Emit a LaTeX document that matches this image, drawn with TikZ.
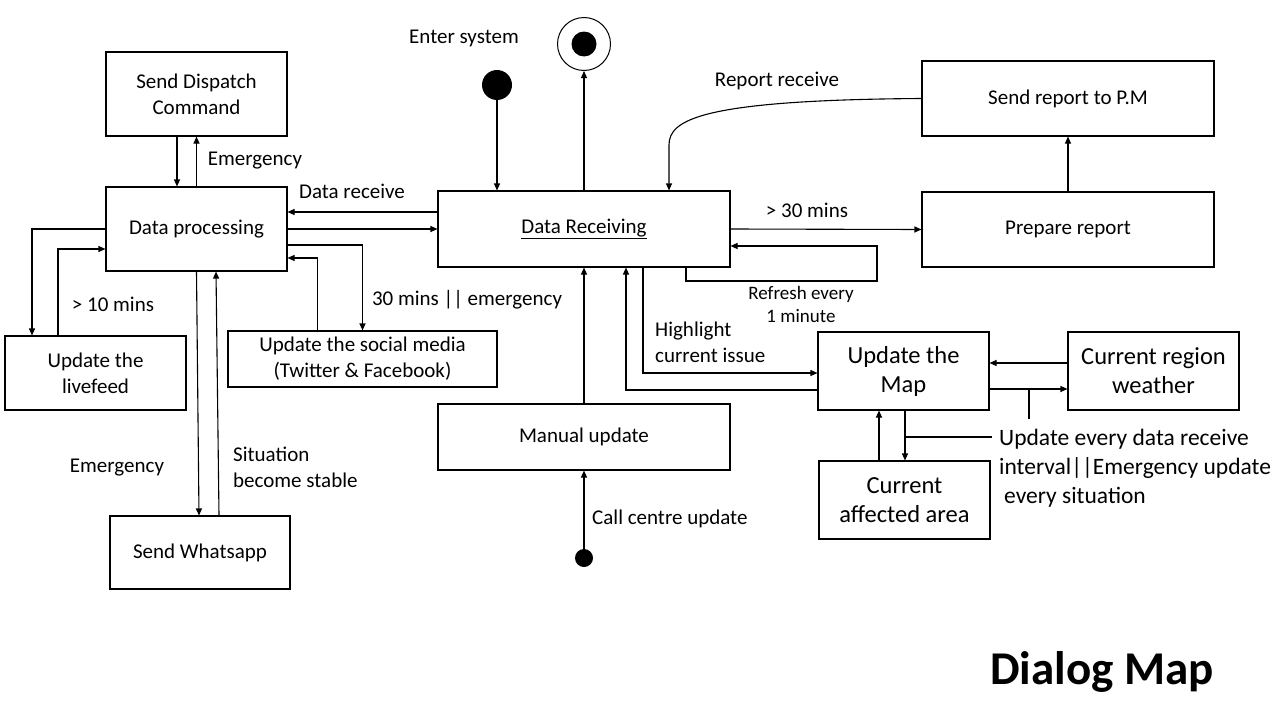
\documentclass[tikz,border=0pt]{standalone}
\usepackage{fontspec}
\setmainfont{Carlito}
\usetikzlibrary{arrows.meta,calc}
\begin{document}
\begin{tikzpicture}[x=1pt,y=-1pt,
  box/.style={draw, line width=1.1pt, inner sep=0pt, align=center, font=\fontsize{21}{26}\selectfont},
  bigbox/.style={box, font=\fontsize{24.5}{29}\selectfont},
  lbl/.style={inner sep=0pt, align=center, font=\fontsize{21}{26}\selectfont},
  arr/.style={line width=1.1pt, -{Triangle[length=7pt,width=6pt]}},
  ln/.style={line width=1.1pt},
  dot/.style={circle, fill=black, inner sep=0pt}]
\path[fill=white,use as bounding box] (0,0) rectangle (1280,720);

% boxes
\node[box, minimum width=181pt, minimum height=84pt] (sdc) at (196.5,94) {Send Dispatch\\Command};
\node[box, minimum width=181pt, minimum height=84pt] (dp) at (196.5,229) {Data processing};
\node[box, minimum width=181pt, minimum height=74pt] (lf) at (95.5,373) {Update the\\livefeed};
\node[box, minimum width=269pt, minimum height=56pt] (sm) at (362.5,359) {Update the social media\\(Twitter \& Facebook)};
\node[box, minimum width=180pt, minimum height=73pt] (wa) at (200,552.5) {Send Whatsapp};
\node[box, minimum width=292pt, minimum height=76pt] (dr) at (584,229) {\underline{Data Receiving}};
\node[box, minimum width=292pt, minimum height=66pt] (mu) at (584,437) {Manual update};
\node[box, minimum width=292pt, minimum height=75pt] (pr) at (1068,229.5) {Prepare report};
\node[box, minimum width=292pt, minimum height=75pt] (sr) at (1068,98.5) {Send report to P.M};
\node[bigbox, minimum width=171pt, minimum height=78pt] (map) at (903.5,371) {Update the\\Map};
\node[bigbox, minimum width=171pt, minimum height=78pt] (we) at (1153.5,371) {Current region\\weather};
\node[bigbox, minimum width=171pt, minimum height=78pt] (aa) at (904.5,500) {Current\\affected area};

% start / end / call centre
\node[dot, minimum size=30pt] (start) at (497,85) {};
\node[circle, draw, line width=1pt, minimum size=53pt, inner sep=0pt] (end) at (584,44) {};
\node[dot, minimum size=25pt] (endin) at (584,44) {};
\node[dot, minimum size=18pt] (call) at (584,558) {};

% left side connectors
\draw[arr] ([xshift=-19.5pt]sdc.south) -- ([xshift=-19.5pt]dp.north);
\draw[arr] (dp.north) -- (sdc.south);
\draw[arr] ([yshift=17pt]dr.west) -- ([yshift=17pt]dp.east);
\draw[arr] (dp.east) -- (dr.west);
\draw[arr] ([yshift=-16pt]dp.east) -| (sm.north);
\draw[arr] ([xshift=-45pt]sm.north) |- ([yshift=-29pt]dp.east);
\draw[arr] (dp.west) -| ([xshift=-63.5pt]lf.north);
\draw[arr] ([xshift=-37.5pt]lf.north) |- ([yshift=-20pt]dp.west);
\draw[arr] (dp.south) -- ([xshift=-1pt]wa.north);
\draw[arr] ([xshift=19pt]wa.north) -- ([xshift=19.5pt]dp.south);

% centre connectors
\draw[arr] (start) -- (start |- dr.north);
\draw[arr] (dr.north) -- (end.south);
\coordinate (rbend) at (669,145);
\draw[arr] (sr.west) .. controls (700,100) and (669,120) .. (rbend) -- ([xshift=85pt]dr.north);
\draw[arr] (dr.east) -- (pr.west);
\coordinate (rloop) at (877,281);
\draw[arr] ([xshift=102pt]dr.south) |- (rloop) |- ([yshift=-17pt]dr.east);
\draw[arr] ([xshift=59pt]dr.south) |- ([yshift=-2pt]map.west);
\draw[arr] ([yshift=-19pt]map.west) -| ([xshift=42pt]dr.south);
\draw[arr] (mu.north) -- (dr.south);
\draw[arr] (call) -- (mu.south);
\draw[arr] (pr.north) -- (sr.south);

% right connectors
\draw[arr] ([yshift=8pt]we.west) -- ([yshift=8pt]map.east);
\draw[arr] ([yshift=-18pt]map.east) -- ([yshift=-18pt]we.west);
\coordinate (tickA) at (1029,389);
\coordinate (tickB) at (1029,419);
\draw[ln] (tickA) -- (tickB);
\draw[arr] ([xshift=1.5pt]map.south) -- ([xshift=0.5pt]aa.north);
\draw[arr] ([xshift=-25.5pt]aa.north) -- ([xshift=-24.5pt]map.south);
\coordinate (hA) at (905,437);
\coordinate (hB) at (992,437);
\draw[ln] (hA) -- (hB);

% labels
\node[lbl] (l1) at (255,161) {Emergency};
\node[lbl] (l2) at (352,191) {Data receive};
\node[lbl] (l3) at (467,300) {30 mins || emergency};
\node[lbl] (l4) at (113,304) {> 10 mins};
\node[lbl] (l5) at (117,468) {Emergency};
\node[lbl, anchor=west, align=left] (l6) at (233,467) {Situation\\become stable};
\node[lbl] (l7) at (464,38) {Enter system};
\node[lbl] (l8) at (777,81) {Report receive};
\node[lbl] (l9) at (807,210) {> 30 mins};
\node[lbl, font=\fontsize{19}{23}\selectfont] (l10) at (801,304) {Refresh every\\1 minute};
\node[lbl, anchor=west, align=left] (l11) at (655,342) {Highlight\\current issue};
\node[lbl, anchor=west] (l12) at (592,519) {Call centre update};
\node[lbl, anchor=west, align=left, font=\fontsize{23.5}{29}\selectfont] (l13) at (999,468) {Update every data receive\\interval||Emergency update\\\hspace{5pt}every situation};
\node[inner sep=0pt, anchor=base west, font=\fontsize{47}{52}\selectfont\bfseries] (title) at (990,684) {Dialog Map};
\end{tikzpicture}
\end{document}
